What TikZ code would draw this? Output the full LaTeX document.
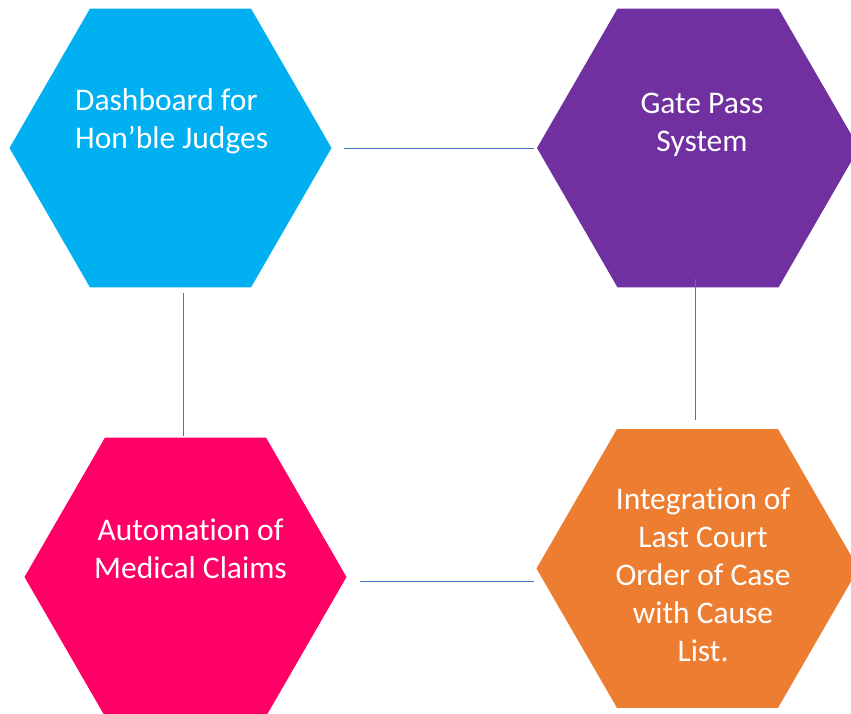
\documentclass[tikz,border=0pt]{standalone}
\usepackage{fontspec}
\setmainfont{Carlito}[Ligatures={NoCommon}, Contextuals={NoAlternate}]
\usetikzlibrary{shapes.geometric}

\definecolor{dashblue}{HTML}{00B0F0}
\definecolor{gatepurple}{HTML}{7030A0}
\definecolor{claimpink}{HTML}{FF0066}
\definecolor{orderorange}{HTML}{ED7D31}
\definecolor{linkblue}{HTML}{4472C4}

\begin{document}
\begin{tikzpicture}[x=1pt, y=1pt,
		hexa/.style={regular polygon, regular polygon sides=6, minimum size=322pt, inner sep=0pt},
		caption/.style={text=white, font=\fontsize{31.5}{38}\selectfont, inner sep=0pt, align=center},
		link/.style={draw=linkblue, line width=0.9pt}]
		\useasboundingbox (0,0) rectangle (851,713);

		\node[hexa, fill=dashblue] (dash) at (170.5,565) {};
		\node[hexa, fill=gatepurple] (gate) at (698,565) {};
		\node[hexa, fill=claimpink] (claim) at (185.5,136) {};
		\node[hexa, fill=orderorange] (order) at (697.5,144.5) {};

		\node[caption, align=left, anchor=west] (dashtext) at ([shift={(-95.5pt,26.5pt)}]dash.center) {Dashboard for\\Hon’ble Judges};
		\node[caption] (gatetext) at ([shift={(4pt,23.5pt)}]gate.center) {Gate Pass\\System};
		\node[caption] (claimtext) at ([shift={(5pt,28.5pt)}]claim.center) {Automation of\\Medical Claims};
		\node[caption] (ordertext) at ([shift={(5.5pt,-6pt)}]order.center) {Integration of\\Last Court\\Order of Case\\with Cause\\List.};

		\coordinate (dashright) at ([xshift=12pt]dash.east);
		\coordinate (dashbottom) at ([shift={(12.5pt,-5pt)}]dash.south);
		\coordinate (gatebottom) at ([shift={(-3pt,9pt)}]gate.south);
		\coordinate (claimright) at ([shift={(13pt,-4pt)}]claim.east);

		\draw[link, shorten >=3pt] (dashright) -- (gate.west);
		\draw[link, shorten >=1pt] (dashbottom) -- (dashbottom |- claim.north);
		\draw[link, shorten >=9pt] (gatebottom) -- (gatebottom |- order.north);
		\draw[link, shorten >=2pt] (claimright) -- (claimright -| order.west);

	\end{tikzpicture}
\end{document}
